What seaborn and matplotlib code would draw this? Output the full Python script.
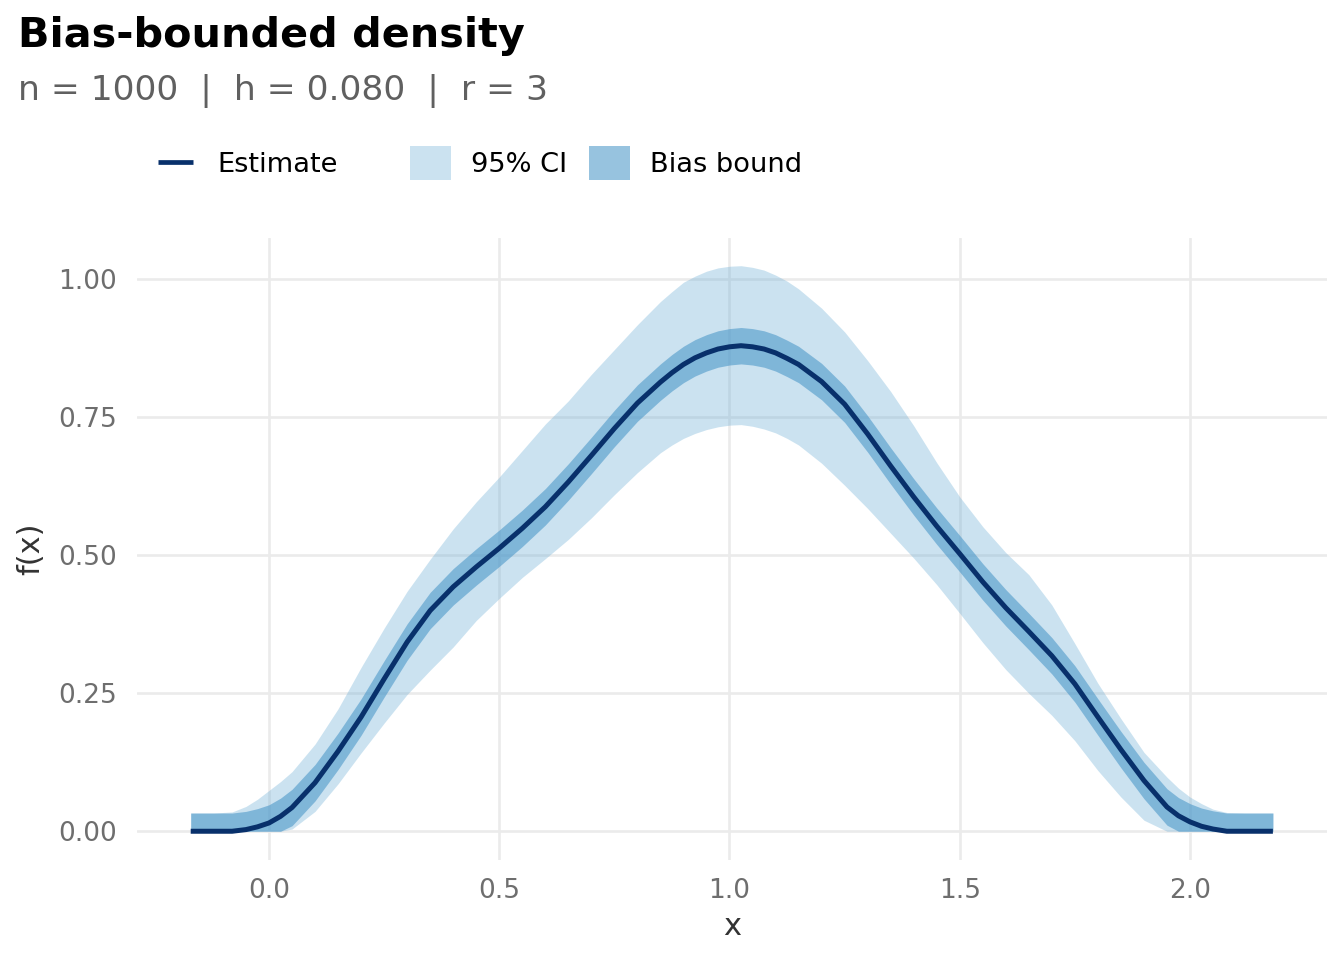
import numpy as np
import pandas as pd
import matplotlib
matplotlib.use("Agg")
import matplotlib.pyplot as plt
import seaborn as sns
from matplotlib.lines import Line2D
from matplotlib.patches import Patch

# ---- data ----
x_grid = [-0.17, -0.12, -0.08, -0.05, -0.025, 0.00, 0.025, 0.05, 0.10, 0.15,
          0.20, 0.25, 0.30, 0.35, 0.40, 0.45, 0.50, 0.55, 0.60, 0.65,
          0.70, 0.75, 0.80, 0.85, 0.875, 0.90, 0.925, 0.95, 0.975, 1.00,
          1.025, 1.05, 1.075, 1.10, 1.125, 1.15, 1.20, 1.25, 1.30, 1.35,
          1.40, 1.45, 1.50, 1.55, 1.60, 1.65, 1.70, 1.75, 1.80, 1.85,
          1.90, 1.95, 1.975, 2.00, 2.025, 2.05, 2.08, 2.12, 2.18]
estimate = [0.0, 0.0, 0.0, 0.003, 0.008, 0.015, 0.027, 0.043, 0.088, 0.145,
            0.207, 0.276, 0.343, 0.400, 0.443, 0.479, 0.513, 0.549, 0.588, 0.633,
            0.681, 0.730, 0.776, 0.814, 0.831, 0.846, 0.858, 0.867, 0.874, 0.878,
            0.880, 0.878, 0.874, 0.867, 0.857, 0.846, 0.815, 0.774, 0.720, 0.662,
            0.606, 0.553, 0.503, 0.452, 0.405, 0.362, 0.318, 0.267, 0.207, 0.148,
            0.092, 0.044, 0.028, 0.017, 0.009, 0.004, 0.0, 0.0, 0.0]
ci_lower = [0.0, 0.0, 0.0, 0.0, 0.0, 0.0, 0.0, 0.004, 0.036, 0.086,
            0.142, 0.196, 0.248, 0.292, 0.334, 0.382, 0.422, 0.460, 0.494, 0.529,
            0.568, 0.610, 0.650, 0.686, 0.700, 0.712, 0.721, 0.728, 0.733, 0.736,
            0.737, 0.734, 0.729, 0.722, 0.712, 0.700, 0.667, 0.627, 0.585, 0.540,
            0.495, 0.447, 0.395, 0.342, 0.293, 0.250, 0.210, 0.164, 0.110, 0.062,
            0.020, 0.0, 0.0, 0.0, 0.0, 0.0, 0.0, 0.0, 0.0]
ci_upper = [0.033, 0.033, 0.035, 0.045, 0.058, 0.074, 0.090, 0.108, 0.158, 0.222,
            0.297, 0.368, 0.435, 0.493, 0.548, 0.597, 0.642, 0.690, 0.738, 0.780,
            0.828, 0.873, 0.918, 0.960, 0.978, 0.995, 1.006, 1.015, 1.021, 1.024,
            1.025, 1.022, 1.017, 1.008, 0.997, 0.983, 0.948, 0.905, 0.853, 0.797,
            0.735, 0.668, 0.606, 0.552, 0.505, 0.465, 0.410, 0.340, 0.268, 0.204,
            0.143, 0.098, 0.078, 0.062, 0.050, 0.040, 0.034, 0.033, 0.033]
bias_bound = 0.033

title = "Bias-bounded density"
subtitle = "n = 1000  |  h = 0.080  |  r = 3"
x_ticks = [0.0, 0.5, 1.0, 1.5, 2.0]
x_tick_labels = ["0.0", "0.5", "1.0", "1.5", "2.0"]
y_ticks = [0.0, 0.25, 0.50, 0.75, 1.00]
y_tick_labels = ["0.00", "0.25", "0.50", "0.75", "1.00"]
legend_labels = ["Estimate", "95% CI", "Bias bound"]

# ---- styling ----
sns.set_theme(style="white")
plt.rcParams["font.family"] = ["DejaVu Sans"]

LINE_COL = "#08306b"
CI_COL, CI_ALPHA = "#6baed6", 0.35
BIAS_COL, BIAS_ALPHA = "#4292c6", 0.55

W, H = 1344, 960
fig = plt.figure(figsize=(W / 100, H / 100), dpi=100)
left, right, top, bottom = 136.6, 1327.0, 238.0, 859.5
ax = fig.add_axes([left / W, 1 - bottom / H, (right - left) / W, (bottom - top) / H])

df = pd.DataFrame({"x": x_grid, "est": estimate, "lo": ci_lower, "hi": ci_upper})
b_lo = np.clip(df["est"] - bias_bound, 0, None)
b_hi = df["est"] + bias_bound

ax.fill_between(df["x"], df["lo"], df["hi"], color=CI_COL, alpha=CI_ALPHA, linewidth=0)
ax.fill_between(df["x"], b_lo, b_hi, color=BIAS_COL, alpha=BIAS_ALPHA, linewidth=0)
sns.lineplot(data=df, x="x", y="est", color=LINE_COL, linewidth=3.6, ax=ax,
             legend=False, solid_capstyle="butt", solid_joinstyle="round")

ax.set_xlim(-0.2875, 2.2975)
ax.set_ylim(-0.0512, 1.0752)
ax.set_xticks(x_ticks, x_tick_labels)
ax.set_yticks(y_ticks, y_tick_labels)
ax.tick_params(axis="both", length=0, labelsize=19, labelcolor="#6e6e6e")
ax.tick_params(axis="x", pad=13)
ax.tick_params(axis="y", pad=14)
ax.grid(True, color="#ebebeb", linewidth=1.9)
ax.set_axisbelow(True)
for s in ax.spines.values():
    s.set_visible(False)

ax.set_xlabel("x", fontsize=22, color="#333333")
ax.xaxis.set_label_coords(0.5, -0.108)
ax.xaxis.label.set_va("center")
ax.set_ylabel("f(x)", fontsize=22, color="#333333")
ax.yaxis.set_label_coords(-0.0887, 0.5)
ax.yaxis.label.set_va("center")
ax.yaxis.label.set_ha("center")

fig.text(18 / W, 1 - 46.5 / H, title, fontsize=29.8, fontweight="bold",
         color="black", va="baseline", ha="left")
fig.text(18 / W, 1 - 99.5 / H, subtitle, fontsize=24.8, color="#606060",
         va="baseline", ha="left")

leg1 = fig.legend(handles=[Line2D([], [], color=LINE_COL, lw=3.4, solid_capstyle="butt")],
                  labels=[legend_labels[0]], loc="center left",
                  bbox_to_anchor=(158 / W, 1 - 165 / H), frameon=False, fontsize=19.6,
                  handlelength=1.29, handletextpad=0.88, borderpad=0, borderaxespad=0,
                  labelcolor="black")
leg2 = fig.legend(handles=[Patch(facecolor=CI_COL, alpha=CI_ALPHA, edgecolor="none"),
                           Patch(facecolor=BIAS_COL, alpha=BIAS_ALPHA, edgecolor="none")],
                  labels=legend_labels[1:], ncol=2, loc="center left",
                  bbox_to_anchor=(410 / W, 1 - 163 / H), frameon=False, fontsize=19.6,
                  handlelength=1.5, handleheight=1.54, handletextpad=0.74,
                  columnspacing=0.81, borderpad=0, borderaxespad=0, labelcolor="black")

fig.savefig("out.png", dpi=100)
